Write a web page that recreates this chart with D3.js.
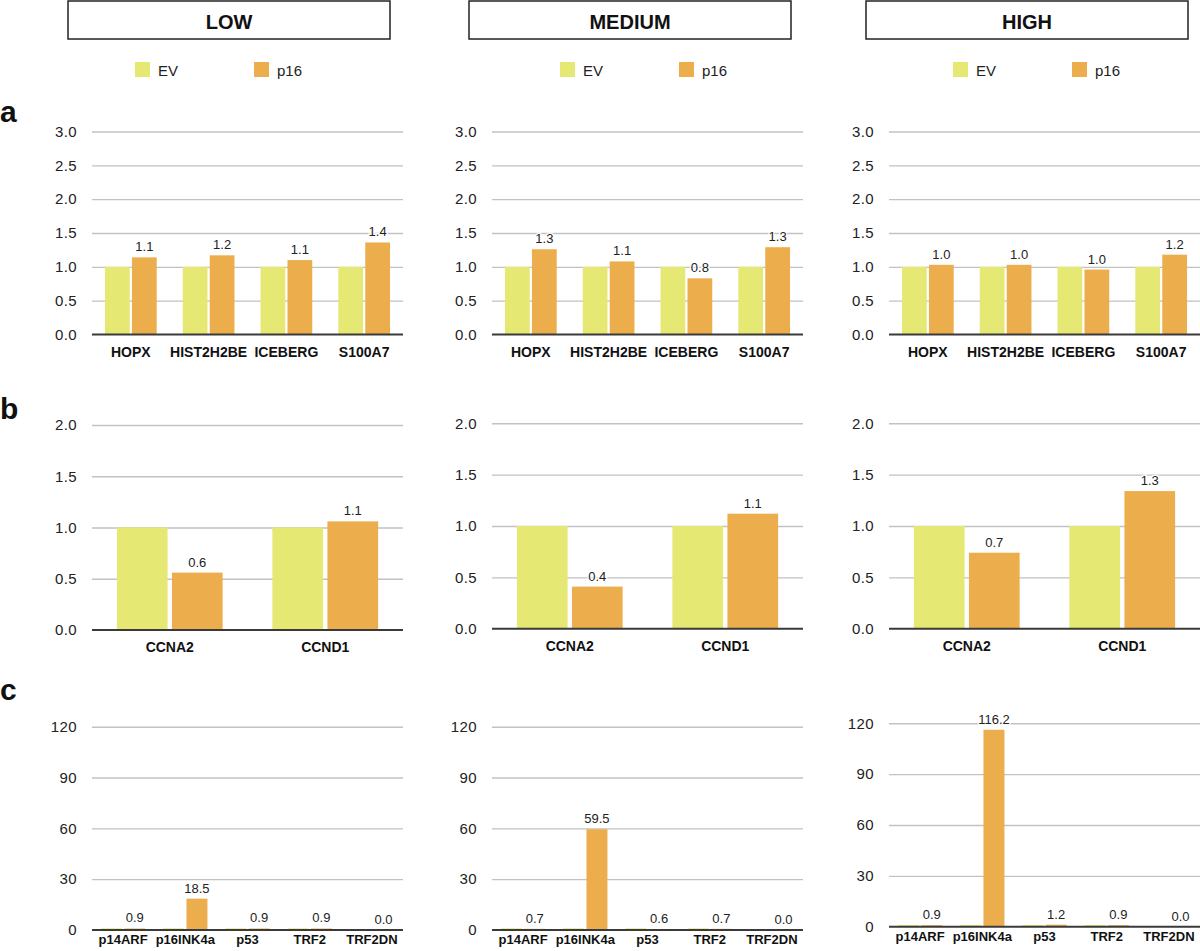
<!DOCTYPE html>
<html>
<head>
<meta charset="utf-8">
<script src="https://cdn.jsdelivr.net/npm/d3@7"></script>
<style>
  html, body { margin: 0; padding: 0; background: #fff; }
  svg { display: block; font-family: "Liberation Sans", Arial, Helvetica, sans-serif; }
</style>
</head>
<body>
<svg id="chart" width="1200" height="951"></svg>
<script>
// ---------------- DATA ----------------
const levels = ["LOW", "MEDIUM", "HIGH"];
const seriesNames = ["EV", "p16"];
const seriesColors = ["#e6e874", "#ecae4d"];

// Row a
const genesA = ["HOPX", "HIST2H2BE", "ICEBERG", "S100A7"];
const evA = [1.0, 1.0, 1.0, 1.0];
const p16A_low = [1.14, 1.17, 1.10, 1.36];
const p16A_medium = [1.26, 1.08, 0.83, 1.29];
const p16A_high = [1.03, 1.03, 0.96, 1.18];
const ticksA = [0, 0.5, 1.0, 1.5, 2.0, 2.5, 3.0];

// Row b
const genesB = ["CCNA2", "CCND1"];
const evB = [1.0, 1.0];
const p16B_low = [0.56, 1.06];
const p16B_medium = [0.41, 1.12];
const p16B_high = [0.74, 1.34];
const ticksB = [0, 0.5, 1.0, 1.5, 2.0];

// Row c
const genesC = ["p14ARF", "p16INK4a", "p53", "TRF2", "TRF2DN"];
const evC = [1.0, 1.0, 1.0, 1.0, 0.0];
const p16C_low = [0.9, 18.5, 0.9, 0.9, 0.0];
const p16C_medium = [0.7, 59.5, 0.6, 0.7, 0.0];
const p16C_high = [0.9, 116.2, 1.2, 0.9, 0.0];
const ticksC = [0, 30, 60, 90, 120];

// ---------------- LAYOUT ----------------
const svg = d3.select("#chart");
const colX = [92, 492, 889];
const plotW = 311;
const headerX = [68, 469, 866];
const legendX = [135, 560, 953];

const rows = [
  { letter: "a", letterY: 122, genes: genesA, ev: evA, p16: [p16A_low, p16A_medium, p16A_high],
    ticks: ticksA, max: 3.0, fmt: d3.format(".1f"),
    y0: [334.5, 334.5, 334.5], yTop: [131.5, 131.5, 131.5],
    pIn: 0.335, pOut: 0.167, pBar: 0.082, labFont: 14, labOff: 22.5 },
  { letter: "b", letterY: 419, genes: genesB, ev: evB, p16: [p16B_low, p16B_medium, p16B_high],
    ticks: ticksB, max: 2.0, fmt: d3.format(".1f"),
    y0: [630, 628.7, 628.7], yTop: [425, 423.3, 423.3],
    pIn: 0.32, pOut: 0.16, pBar: 0.079, labFont: 14, labOff: 22 },
  { letter: "c", letterY: 700, genes: genesC, ev: evC, p16: [p16C_low, p16C_medium, p16C_high],
    ticks: ticksC, max: 120, fmt: d3.format("d"),
    y0: [930, 930, 926.7], yTop: [726.7, 726.7, 723.3],
    pIn: 0.288, pOut: 0.144, pBar: 0.1, labFont: 13, labOff: 14 }
];

// Headers and legends
levels.forEach((lev, i) => {
  svg.append("rect")
    .attr("x", headerX[i]).attr("y", 1)
    .attr("width", 322).attr("height", 38)
    .attr("fill", "#fff").attr("stroke", "#222").attr("stroke-width", 1.5);
  svg.append("text")
    .attr("x", headerX[i] + 161).attr("y", 28.5)
    .attr("text-anchor", "middle")
    .attr("font-size", 20).attr("font-weight", "bold").attr("fill", "#111")
    .text(lev);

  const lg = svg.append("g").attr("transform", `translate(${legendX[i]},62)`);
  seriesNames.forEach((s, k) => {
    lg.append("rect").attr("x", k * 119).attr("y", 0)
      .attr("width", 15).attr("height", 15).attr("fill", seriesColors[k]);
    lg.append("text").attr("x", k * 119 + 23).attr("y", 13.5)
      .attr("font-size", 15).attr("fill", "#222").text(s);
  });
});

// Rows
rows.forEach(row => {
  svg.append("text")
    .attr("x", 0).attr("y", row.letterY)
    .attr("font-size", 30).attr("font-weight", "bold").attr("fill", "#111")
    .text(row.letter);

  levels.forEach((lev, i) => {
    const g = svg.append("g").attr("transform", `translate(${colX[i]},0)`);
    const y = d3.scaleLinear().domain([0, row.max]).range([row.y0[i], row.yTop[i]]);
    const x0 = d3.scaleBand().domain(row.genes).range([0, plotW])
      .paddingInner(row.pIn).paddingOuter(row.pOut);
    const x1 = d3.scaleBand().domain(seriesNames).range([0, x0.bandwidth()])
      .paddingInner(row.pBar).paddingOuter(0);

    // grid lines + tick labels via axis
    const axis = d3.axisLeft(y).tickValues(row.ticks).tickSize(-plotW).tickPadding(15)
      .tickFormat(row.fmt);
    const ag = g.append("g").call(axis)
      .attr("font-size", 15)
      .attr("font-family", "'Liberation Sans', Arial, sans-serif");
    ag.select(".domain").remove();
    ag.selectAll(".tick line")
      .attr("stroke", d => d === 0 ? "none" : "#c2c2c2")
      .attr("stroke-width", 1.4);
    ag.selectAll(".tick text")
      .attr("font-size", 15).attr("fill", "#222")
      .attr("letter-spacing", 0.4);

    const data = row.genes.map((gname, j) => ({
      gene: gname,
      vals: [{ s: "EV", v: row.ev[j] }, { s: "p16", v: row.p16[i][j] }]
    }));

    const groups = g.selectAll(".grp").data(data).enter().append("g")
      .attr("transform", d => `translate(${x0(d.gene)},0)`);

    groups.selectAll("rect").data(d => d.vals).enter().append("rect")
      .attr("x", d => x1(d.s))
      .attr("y", d => y(d.v))
      .attr("width", x1.bandwidth())
      .attr("height", d => y(0) - y(d.v))
      .attr("fill", (d, k) => seriesColors[k]);

    // value labels (p16 only)
    groups.append("text")
      .attr("x", x1("p16") + x1.bandwidth() / 2)
      .attr("y", d => y(d.vals[1].v) - 6)
      .attr("text-anchor", "middle")
      .attr("font-size", 13).attr("fill", "#222")
      .attr("stroke", "#fff").attr("stroke-width", 3).attr("stroke-opacity", 0.85)
      .attr("paint-order", "stroke")
      .text(d => d.vals[1].v.toFixed(1));

    // zero axis line
    g.append("line")
      .attr("x1", 0).attr("x2", plotW)
      .attr("y1", y(0)).attr("y2", y(0))
      .attr("stroke", "#3a3a3a").attr("stroke-width", 2);

    // category labels
    g.selectAll(".cat").data(row.genes).enter().append("text")
      .attr("x", d => x0(d) + x0.bandwidth() / 2)
      .attr("y", y(0) + row.labOff)
      .attr("text-anchor", "middle")
      .attr("font-size", row.labFont).attr("font-weight", "bold").attr("fill", "#111")
      .text(d => d);
  });
});
</script>
</body>
</html>
